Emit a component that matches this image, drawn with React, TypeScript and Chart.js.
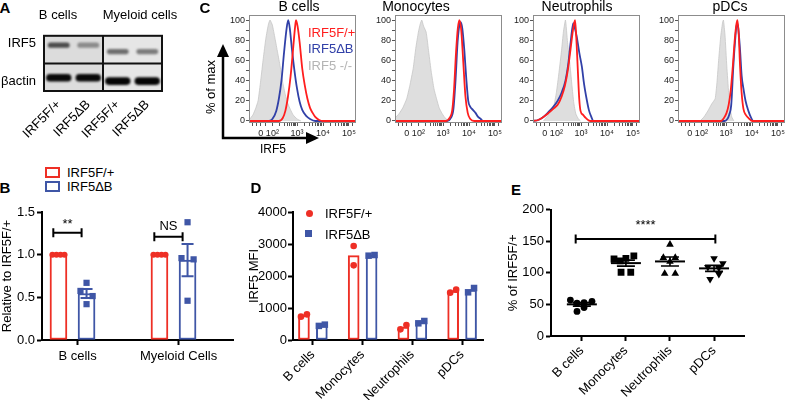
import React, { useEffect, useRef } from 'react';
import { Chart, registerables } from 'chart.js';

Chart.register(...registerables);

const FONT = "'Liberation Sans', Arial, Helvetica, sans-serif";
const RED = '#ee2f25';
const BLUE = '#3f56a6';
const C_RED = '#ff1e1e';
const C_BLUE = '#3140a8';
const C_GRAY_FILL = '#dedede';
const C_GRAY_LINE = '#c6c6c6';

// ---------------- Panel A (western blot) ----------------
const BLOT_LANES = ['IRF5F/+', 'IRF5ΔB', 'IRF5F/+', 'IRF5ΔB'];
const BLOT_ROWS = ['IRF5', 'βactin'];
const BLOT_GROUPS = ['B cells', 'Myeloid cells'];
const IRF5_BAND_INTENSITY = [0.68, 0.4, 0.52, 0.46];
const ACTIN_BAND_INTENSITY = [0.96, 0.96, 0.98, 0.98];
const IRF5_BAND_MOBILITY = [1.66, 1.66, 1.43, 1.43];
const ACTIN_BAND_MOBILITY = [0.48, 0.48, 0.36, 0.36];

// ---------------- Panel C (histograms) ----------------
type Pt = [number, number];
const C_TITLES = ['B cells', 'Monocytes', 'Neutrophils', 'pDCs'];
const C_LEGEND = ['IRF5F/+', 'IRF5ΔB', 'IRF5 -/-'];
const C_XTICKS: [number, string][] = [[1.6, '0'], [2.05, '10²'], [3, '10³'], [4, '10⁴'], [5, '10⁵']];
const C_YTICKS = [0, 20, 40, 60, 80, 100];

const BC_KO: Pt[] = [[1.15, 1], [1.3, 6], [1.4, 12], [1.5, 20], [1.6, 40], [1.7, 62], [1.8, 82], [1.9, 96], [1.96, 100], [2.05, 95], [2.15, 82], [2.25, 68], [2.35, 54], [2.45, 38], [2.55, 26], [2.65, 17], [2.75, 11], [2.85, 6], [3.0, 2], [3.15, 0]];
const BC_DB: Pt[] = [[1.15, 0], [1.9, 0], [2.05, 2], [2.2, 10], [2.3, 22], [2.4, 40], [2.5, 68], [2.6, 92], [2.66, 100], [2.72, 92], [2.8, 72], [2.9, 50], [3.0, 32], [3.1, 19], [3.2, 11], [3.35, 5], [3.5, 2], [3.7, 0], [5.27, 0]];
const BC_WT: Pt[] = [[1.15, 0], [2.3, 0], [2.45, 3], [2.55, 10], [2.65, 24], [2.75, 44], [2.85, 72], [2.92, 92], [2.96, 100], [3.02, 94], [3.1, 78], [3.2, 52], [3.3, 35], [3.4, 22], [3.5, 13], [3.6, 8], [3.7, 4], [3.85, 1], [4.0, 0], [5.27, 0]];

const MO_KO: Pt[] = [[1.15, 3], [1.3, 7], [1.45, 13], [1.6, 22], [1.72, 35], [1.85, 52], [1.95, 72], [2.05, 88], [2.12, 96], [2.18, 100], [2.25, 94], [2.35, 88], [2.45, 68], [2.55, 48], [2.65, 32], [2.75, 22], [2.85, 13], [2.95, 8], [3.05, 4], [3.2, 0]];
const MO_DB: Pt[] = [[1.15, 0], [3.15, 0], [3.3, 3], [3.4, 12], [3.48, 40], [3.56, 78], [3.63, 95], [3.68, 98], [3.74, 92], [3.82, 70], [3.9, 40], [3.97, 20], [4.05, 14], [4.15, 11], [4.25, 8], [4.35, 4], [4.45, 2], [4.55, 0], [5.27, 0]];
const MO_WT: Pt[] = [[1.15, 0], [3.1, 0], [3.25, 3], [3.35, 10], [3.42, 30], [3.5, 68], [3.57, 92], [3.63, 100], [3.7, 90], [3.78, 58], [3.86, 25], [3.95, 8], [4.05, 2], [4.2, 0], [5.27, 0]];

const NE_KO: Pt[] = [[1.55, 0], [1.65, 3], [1.8, 8], [1.95, 15], [2.05, 28], [2.15, 48], [2.25, 70], [2.32, 88], [2.4, 100], [2.48, 78], [2.58, 54], [2.65, 35], [2.72, 18], [2.8, 7], [2.9, 2], [2.98, 0]];
const NE_DB: Pt[] = [[1.15, 0], [1.35, 1], [1.55, 4], [1.75, 9], [1.93, 14], [2.1, 20], [2.25, 28], [2.4, 40], [2.5, 55], [2.6, 78], [2.7, 97], [2.76, 92], [2.83, 84], [2.93, 68], [3.03, 54], [3.12, 36], [3.22, 21], [3.3, 11], [3.38, 5], [3.48, 0], [5.27, 0]];
const NE_WT: Pt[] = [[1.15, 0], [1.35, 1], [1.55, 4], [1.75, 8], [1.93, 12], [2.1, 16], [2.25, 24], [2.38, 35], [2.5, 52], [2.6, 72], [2.7, 92], [2.77, 100], [2.83, 76], [2.88, 48], [2.93, 22], [2.98, 10], [3.08, 6], [3.18, 3], [3.35, 0], [5.27, 0]];

const PD_KO: Pt[] = [[2.0, 0], [2.15, 4], [2.3, 10], [2.45, 17], [2.58, 22], [2.65, 38], [2.72, 62], [2.8, 85], [2.87, 98], [2.9, 100], [2.96, 85], [3.03, 54], [3.1, 28], [3.16, 12], [3.22, 4], [3.3, 0]];
const PD_DB: Pt[] = [[1.15, 0], [2.95, 0], [3.05, 2], [3.12, 6], [3.2, 16], [3.28, 54], [3.35, 80], [3.42, 97], [3.47, 92], [3.54, 70], [3.6, 45], [3.67, 32], [3.75, 20], [3.86, 10], [3.95, 4], [4.05, 0], [5.27, 0]];
const PD_WT: Pt[] = [[1.15, 0], [2.8, 0], [2.92, 3], [3.02, 8], [3.1, 16], [3.18, 30], [3.26, 54], [3.34, 82], [3.4, 96], [3.44, 100], [3.49, 85], [3.54, 54], [3.6, 28], [3.67, 12], [3.76, 6], [3.86, 3], [4.0, 0], [5.27, 0]];

// ---------------- Panel B ----------------
const B_CATS = ['B cells', 'Myeloid Cells'];
const B_SERIES = ['IRF5F/+', 'IRF5ΔB'];
const B_WT = [[1, 1, 1, 1], [1, 1, 1, 1]];
const B_KO = [[0.67, 0.575, 0.515, 0.42], [1.38, 0.96, 0.945, 0.46]];
const B_SIG = ['**', 'NS'];

// ---------------- Panel D ----------------
const D_CATS = ['B cells', 'Monocytes', 'Neutrophils', 'pDCs'];
const D_WT = [[729, 802], [2937, 2333], [333, 469], [1479, 1573]];
const D_KO = [[440, 480], [2635, 2656], [521, 594], [1490, 1625]];

// ---------------- Panel E ----------------
const E_CATS = ['B cells', 'Monocytes', 'Neutrophils', 'pDCs'];
const E_VALUES = [
  [57, 52, 53, 39, 45, 55],
  [122, 119, 123, 127, 101, 101],
  [145, 124, 124, 118, 99, 99],
  [123, 115, 109, 108, 90, 98],
];
const E_SIG = '****';

// layout-only horizontal spreads of dots (fractions of a category step)
const B_WT_SPREAD = [-0.06, -0.02, 0.02, 0.06];
const B_KO_SPREAD = [0, -0.06, 0.06, 0];
const D_SPREAD = [[-0.06, 0.06], [0, 0], [-0.06, 0.06], [-0.06, 0.06]];
const D_KO_SPREAD = [[-0.06, 0.06], [-0.06, 0.06], [-0.06, 0.06], [-0.06, 0.06]];
const E_SPREAD = [
  [-0.26, -0.11, 0.05, -0.11, 0.05, 0.23],
  [-0.27, -0.13, 0, 0.18, -0.11, 0.11],
  [0, -0.15, 0.12, 0, -0.12, 0.12],
  [0, 0.2, -0.14, 0.11, -0.09, 0.11],
];

const mean = (a: number[]) => a.reduce((s, v) => s + v, 0) / a.length;
const sem = (a: number[]) => {
  const m = mean(a);
  const sd = Math.sqrt(a.reduce((s, v) => s + (v - m) * (v - m), 0) / (a.length - 1));
  return sd / Math.sqrt(a.length);
};
const toXY = (a: Pt[]) => a.map(([x, y]) => ({ x, y }));

// ---------- shared helpers ----------
const font = (size: number, weight = 'normal') => ({ family: FONT, size, weight });

function axisBlack(extra: any) {
  return {
    grid: { display: true, drawOnChartArea: false, tickLength: 5, tickWidth: 2, tickColor: '#000' },
    border: { display: true, color: '#000', width: 2 },
    ...extra,
  };
}

function bracketPlugin(items: { x1: number; x2: number; y: number; label: string; dy: number }[]) {
  return {
    id: 'brackets',
    afterDatasetsDraw(chart: any) {
      const { ctx } = chart;
      const xs = chart.scales.x;
      const ys = chart.scales.y;
      ctx.save();
      ctx.strokeStyle = '#000';
      ctx.fillStyle = '#000';
      ctx.lineWidth = 2;
      ctx.font = `13px ${FONT}`;
      ctx.textAlign = 'center';
      ctx.textBaseline = 'middle';
      for (const it of items) {
        const a = xs.getPixelForValue(it.x1);
        const b = xs.getPixelForValue(it.x2);
        const y = ys.getPixelForValue(it.y);
        ctx.beginPath();
        ctx.moveTo(a, y);
        ctx.lineTo(b, y);
        ctx.moveTo(a, y - 4.5);
        ctx.lineTo(a, y + 4.5);
        ctx.moveTo(b, y - 4.5);
        ctx.lineTo(b, y + 4.5);
        ctx.stroke();
        ctx.fillText(it.label, (a + b) / 2, y + it.dy);
      }
      ctx.restore();
    },
  };
}

function ChartBox(props: { left: number; top: number; width: number; height: number; make: () => any }) {
  const ref = useRef<HTMLCanvasElement>(null);
  useEffect(() => {
    const c = new Chart(ref.current as HTMLCanvasElement, props.make());
    return () => c.destroy();
  }, []);
  return (
    <canvas
      ref={ref}
      width={props.width}
      height={props.height}
      style={{ position: 'absolute', left: props.left, top: props.top, width: props.width, height: props.height, display: 'block' }}
    />
  );
}

// ---------- Panel A config ----------
const bandGray = (i: number) => {
  const g = Math.round(230 - 230 * i);
  return `rgb(${g},${g},${g})`;
};

function makeBlot() {
  const blotPlugin = {
    id: 'blot',
    beforeDatasetsDraw(chart: any) {
      const { ctx, chartArea: a } = chart;
      const xs = chart.scales.x;
      const mid = (xs.getPixelForValue(1) + xs.getPixelForValue(2)) / 2;
      ctx.save();
      ctx.fillStyle = '#dcdcdc';
      ctx.fillRect(a.left, a.top, mid - a.left, a.bottom - a.top);
      ctx.fillStyle = '#e6e6e6';
      ctx.fillRect(mid, a.top, a.right - mid, a.bottom - a.top);
      ctx.restore();
      ctx.save();
      ctx.filter = 'blur(0.9px)';
    },
    afterDatasetsDraw(chart: any) {
      const { ctx, chartArea: a } = chart;
      ctx.restore();
      const xs = chart.scales.x;
      const ys = chart.scales.y;
      const mid = (xs.getPixelForValue(1) + xs.getPixelForValue(2)) / 2;
      const ym = ys.getPixelForValue(1);
      ctx.save();
      ctx.strokeStyle = '#111';
      ctx.lineWidth = 2;
      ctx.strokeRect(a.left, a.top, a.right - a.left, a.bottom - a.top);
      ctx.beginPath();
      ctx.moveTo(mid, a.top);
      ctx.lineTo(mid, a.bottom);
      ctx.moveTo(a.left, ym);
      ctx.lineTo(a.right, ym);
      ctx.stroke();
      ctx.restore();
    },
  };
  return {
    type: 'bar',
    data: {
      labels: BLOT_LANES,
      datasets: [
        {
          data: IRF5_BAND_MOBILITY.map((m) => [m - 0.095, m + 0.095]),
          backgroundColor: IRF5_BAND_INTENSITY.map(bandGray),
          barPercentage: 0.74,
          categoryPercentage: 1,
          grouped: false,
          borderRadius: 3,
          borderSkipped: false,
        },
        {
          data: ACTIN_BAND_MOBILITY.map((m) => [m - 0.14, m + 0.14]),
          backgroundColor: ACTIN_BAND_INTENSITY.map(bandGray),
          barPercentage: 0.86,
          categoryPercentage: 1,
          grouped: false,
          borderRadius: 4,
          borderSkipped: false,
        },
      ],
    },
    options: {
      responsive: false,
      animation: false,
      layout: { padding: { top: 9, right: 8, left: 0, bottom: 0 } },
      plugins: { legend: { display: false }, tooltip: { enabled: false } },
      scales: {
        x: {
          type: 'category',
          offset: true,
          grid: { display: false, drawTicks: false },
          border: { display: false },
          ticks: { color: '#000', font: font(13), minRotation: 45, maxRotation: 45, padding: 6, autoSkip: false },
          afterFit: (s: any) => { s.height = 61; },
        },
        y: {
          type: 'linear',
          min: 0,
          max: 2,
          grid: { display: false, drawTicks: false },
          border: { display: false },
          afterBuildTicks: (s: any) => { s.ticks = [{ value: 0.35 }, { value: 1.72 }]; },
          ticks: { color: '#000', font: font(13), padding: 8, callback: (v: number) => (v > 1 ? BLOT_ROWS[0] : BLOT_ROWS[1]) },
          afterFit: (s: any) => { s.width = 44; },
        },
      },
    },
    plugins: [blotPlugin],
  };
}

// ---------- Panel C config ----------
const H_MIN = 1.15;
const H_MAX = 5.27;
const H_MINOR: number[] = [];
[2, 3, 4].forEach((d) => {
  for (let k = 2; k <= 9; k++) {
    const base = d === 2 ? 2.05 : d;
    const span = d === 2 ? 0.95 : 1;
    H_MINOR.push(base + Math.log10(k) * span);
  }
});
H_MINOR.push(1.3, 1.45, 1.8, 5.15);

function makeHist(wt: Pt[], db: Pt[], ko: Pt[], yw: number, padRight: number, first: boolean) {
  const boxPlugin = {
    id: 'histBox',
    afterDatasetsDraw(chart: any) {
      const { ctx, chartArea: a } = chart;
      ctx.save();
      ctx.strokeStyle = '#8c8c8c';
      ctx.lineWidth = 1;
      ctx.strokeRect(a.left + 0.5, a.top + 0.5, a.right - a.left - 1, a.bottom - a.top - 1);
      ctx.restore();
      if (first) {
        ctx.save();
        ctx.strokeStyle = '#000';
        ctx.fillStyle = '#000';
        ctx.lineWidth = 2.5;
        const ax = 23;
        const ay = 138;
        ctx.beginPath();
        ctx.moveTo(ax, ay);
        ctx.lineTo(ax, 55);
        ctx.moveTo(ax - 1.2, ay);
        ctx.lineTo(108, ay);
        ctx.stroke();
        ctx.beginPath();
        ctx.moveTo(ax, 44);
        ctx.lineTo(ax - 6, 57);
        ctx.lineTo(ax + 6, 57);
        ctx.closePath();
        ctx.fill();
        ctx.beginPath();
        ctx.moveTo(119, ay);
        ctx.lineTo(106, ay - 6);
        ctx.lineTo(106, ay + 6);
        ctx.closePath();
        ctx.fill();
        ctx.restore();
      }
    },
  };
  const tickCol = '#555';
  return {
    type: 'line',
    data: {
      datasets: [
        { data: toXY(wt), borderColor: C_RED, borderWidth: 1.8, pointRadius: 0, cubicInterpolationMode: 'monotone', fill: false },
        { data: toXY(db), borderColor: C_BLUE, borderWidth: 1.8, pointRadius: 0, cubicInterpolationMode: 'monotone', fill: false },
        { data: toXY(ko), borderColor: C_GRAY_LINE, borderWidth: 0.8, backgroundColor: C_GRAY_FILL, pointRadius: 0, tension: 0.15, fill: 'origin' },
      ],
    },
    options: {
      responsive: false,
      animation: false,
      layout: { padding: { top: 15, right: padRight, left: 0, bottom: 0 } },
      plugins: { legend: { display: false }, tooltip: { enabled: false } },
      scales: {
        x: {
          type: 'linear',
          min: H_MIN,
          max: H_MAX,
          grid: { display: true, drawOnChartArea: false, tickLength: 3, tickWidth: 1, tickColor: tickCol },
          border: { display: false },
          afterBuildTicks: (s: any) => {
            const all = [...C_XTICKS.map((t) => t[0]), ...H_MINOR].sort((a, b) => a - b);
            s.ticks = all.map((v) => ({ value: v }));
          },
          ticks: {
            autoSkip: false,
            maxRotation: 0,
            minRotation: 0,
            padding: 2,
            color: '#222',
            font: font(9),
            callback: (v: number) => {
              const t = C_XTICKS.find((q) => Math.abs(q[0] - v) < 1e-6);
              return t ? t[1] : '';
            },
          },
          afterFit: (s: any) => { s.height = 37; },
        },
        y: {
          type: 'linear',
          min: -2,
          max: 105,
          grid: { display: true, drawOnChartArea: false, tickLength: 3, tickWidth: 1, tickColor: tickCol },
          border: { display: false },
          afterBuildTicks: (s: any) => {
            const arr: any[] = [];
            for (let v = 0; v <= 100; v += 10) arr.push({ value: v });
            s.ticks = arr;
          },
          ticks: {
            autoSkip: false,
            padding: 1,
            color: '#222',
            font: font(9),
            callback: (v: number) => (C_YTICKS.includes(v) ? String(v) : ''),
          },
          afterFit: (s: any) => { s.width = yw; },
        },
      },
    },
    plugins: [boxPlugin],
  };
}

// ---------- Panel B config ----------
function makeB() {
  const OFF = 0.139;
  const errPlugin = {
    id: 'errB',
    afterDatasetsDraw(chart: any) {
      const { ctx } = chart;
      const xs = chart.scales.x;
      const ys = chart.scales.y;
      ctx.save();
      ctx.strokeStyle = BLUE;
      ctx.lineWidth = 2;
      B_KO.forEach((vals, i) => {
        const m = mean(vals);
        const e = sem(vals);
        const x = xs.getPixelForValue(i + OFF);
        const y1 = ys.getPixelForValue(m - e);
        const y2 = ys.getPixelForValue(m + e);
        ctx.beginPath();
        ctx.moveTo(x, y1);
        ctx.lineTo(x, y2);
        ctx.moveTo(x - 6, y1);
        ctx.lineTo(x + 6, y1);
        ctx.moveTo(x - 6, y2);
        ctx.lineTo(x + 6, y2);
        ctx.stroke();
      });
      ctx.restore();
    },
  };
  return {
    type: 'bar',
    data: {
      datasets: [
        {
          type: 'scatter',
          data: B_WT.flatMap((vals, i) => vals.map((v, k) => ({ x: i - OFF + B_WT_SPREAD[k], y: v }))),
          pointStyle: 'circle',
          pointRadius: 3,
          backgroundColor: RED,
          borderWidth: 0,
          order: 0,
        },
        {
          type: 'scatter',
          data: B_KO.flatMap((vals, i) => vals.map((v, k) => ({ x: i + OFF + B_KO_SPREAD[k], y: v }))),
          pointStyle: 'rect',
          pointRadius: 4.4,
          backgroundColor: BLUE,
          borderWidth: 0,
          order: 0,
        },
        {
          label: B_SERIES[0],
          data: B_WT.map((vals, i) => ({ x: i - OFF, y: mean(vals) })),
          backgroundColor: '#fff',
          borderColor: RED,
          borderWidth: 2,
          barThickness: 17,
          grouped: false,
          borderSkipped: false,
          order: 2,
        },
        {
          label: B_SERIES[1],
          data: B_KO.map((vals, i) => ({ x: i + OFF, y: mean(vals) })),
          backgroundColor: '#fff',
          borderColor: BLUE,
          borderWidth: 2,
          barThickness: 17,
          grouped: false,
          borderSkipped: false,
          order: 2,
        },
      ],
    },
    options: {
      responsive: false,
      animation: false,
      layout: { padding: { top: 12, right: 7, left: 0, bottom: 0 } },
      plugins: { legend: { display: false }, tooltip: { enabled: false } },
      scales: {
        x: axisBlack({
          type: 'linear',
          min: -0.302,
          max: 1.589,
          offset: false,
          grid: { display: true, offset: false, drawOnChartArea: false, tickLength: 5, tickWidth: 2, tickColor: '#000' },
          afterBuildTicks: (s: any) => { s.ticks = B_CATS.map((_, i) => ({ value: i + 0.05 })); },
          ticks: {
            autoSkip: false,
            maxRotation: 0,
            minRotation: 0,
            padding: 4,
            color: '#000',
            font: font(13),
            callback: (v: number) => B_CATS[Math.round(v)],
          },
          afterFit: (s: any) => { s.height = 35; },
        }),
        y: axisBlack({
          type: 'linear',
          min: 0,
          max: 1.5,
          ticks: { stepSize: 0.5, padding: 2, color: '#000', font: font(13), callback: (v: number) => v.toFixed(1) },
          title: { display: true, text: 'Relative to IRF5F/+', color: '#000', font: font(13), padding: { top: 0, bottom: 0 } },
          afterFit: (s: any) => { s.width = 42; },
        }),
      },
    },
    plugins: [
      errPlugin,
      bracketPlugin([
        { x1: -0.19, x2: 0.09, y: 1.258, label: B_SIG[0], dy: -8 },
        { x1: 0.81, x2: 1.09, y: 1.21, label: B_SIG[1], dy: -10 },
      ]),
    ],
  };
}

// ---------- Panel D config ----------
function makeD() {
  const OFF = 0.18;
  return {
    type: 'bar',
    data: {
      datasets: [
        {
          type: 'scatter',
          data: D_WT.flatMap((vals, i) => vals.map((v, k) => ({ x: i - OFF + D_SPREAD[i][k], y: v }))),
          pointStyle: 'circle',
          pointRadius: 3.3,
          backgroundColor: RED,
          borderWidth: 0,
          order: 0,
        },
        {
          type: 'scatter',
          data: D_KO.flatMap((vals, i) => vals.map((v, k) => ({ x: i + OFF + D_KO_SPREAD[i][k], y: v }))),
          pointStyle: 'rect',
          pointRadius: 4.6,
          backgroundColor: BLUE,
          borderWidth: 0,
          order: 0,
        },
        {
          data: D_WT.map((vals, i) => ({ x: i - OFF, y: mean(vals) })),
          backgroundColor: '#fff',
          borderColor: RED,
          borderWidth: 2,
          barThickness: 11,
          grouped: false,
          borderSkipped: false,
          order: 2,
        },
        {
          data: D_KO.map((vals, i) => ({ x: i + OFF, y: mean(vals) })),
          backgroundColor: '#fff',
          borderColor: BLUE,
          borderWidth: 2,
          barThickness: 11,
          grouped: false,
          borderSkipped: false,
          order: 2,
        },
      ],
    },
    options: {
      responsive: false,
      animation: false,
      layout: { padding: { top: 12, right: 7, left: 0, bottom: 0 } },
      plugins: { legend: { display: false }, tooltip: { enabled: false } },
      scales: {
        x: axisBlack({
          type: 'linear',
          min: -0.4,
          max: 3.42,
          offset: false,
          grid: { display: true, offset: false, drawOnChartArea: false, tickLength: 5, tickWidth: 2, tickColor: '#000' },
          afterBuildTicks: (s: any) => { s.ticks = D_CATS.map((_, i) => ({ value: i })); },
          ticks: {
            autoSkip: false,
            maxRotation: 45,
            minRotation: 45,
            padding: 2,
            color: '#000',
            font: font(13),
            callback: (v: number) => D_CATS[Math.round(v)],
          },
          afterFit: (s: any) => { s.height = 60; },
        }),
        y: axisBlack({
          type: 'linear',
          min: 0,
          max: 4000,
          ticks: { stepSize: 1000, padding: 1, color: '#000', font: font(13), callback: (v: number) => String(v) },
          title: { display: true, text: 'IRF5 MFI', color: '#000', font: font(13), padding: { top: 0, bottom: 0 } },
          afterFit: (s: any) => { s.width = 46; },
        }),
      },
    },
  };
}

// ---------- Panel E config ----------
function makeE() {
  const styles = ['circle', 'rect', 'triangle', 'triangle'];
  const radii = [3.4, 4.8, 4.4, 4.4];
  const rots = [0, 0, 0, 180];
  const meanPlugin = {
    id: 'meanSem',
    afterDatasetsDraw(chart: any) {
      const { ctx } = chart;
      const xs = chart.scales.x;
      const ys = chart.scales.y;
      ctx.save();
      ctx.strokeStyle = '#000';
      E_VALUES.forEach((vals, i) => {
        const m = mean(vals);
        const e = sem(vals);
        const x = xs.getPixelForValue(i);
        const ym = ys.getPixelForValue(m);
        const y1 = ys.getPixelForValue(m - e);
        const y2 = ys.getPixelForValue(m + e);
        ctx.lineWidth = 2;
        ctx.beginPath();
        ctx.moveTo(x - 15, ym);
        ctx.lineTo(x + 15, ym);
        ctx.stroke();
        ctx.lineWidth = 1.6;
        ctx.beginPath();
        ctx.moveTo(x, y1);
        ctx.lineTo(x, y2);
        ctx.moveTo(x - 9, y1);
        ctx.lineTo(x + 9, y1);
        ctx.moveTo(x - 9, y2);
        ctx.lineTo(x + 9, y2);
        ctx.stroke();
      });
      ctx.restore();
    },
  };
  return {
    type: 'scatter',
    data: {
      datasets: E_VALUES.map((vals, i) => ({
        label: E_CATS[i],
        data: vals.map((v, k) => ({ x: i + E_SPREAD[i][k], y: v })),
        pointStyle: styles[i],
        pointRadius: radii[i],
        pointRotation: rots[i],
        backgroundColor: '#000',
        borderColor: '#000',
        borderWidth: 0,
      })),
    },
    options: {
      responsive: false,
      animation: false,
      layout: { padding: { top: 8, right: 42, left: 0, bottom: 0 } },
      plugins: { legend: { display: false }, tooltip: { enabled: false } },
      scales: {
        x: axisBlack({
          type: 'linear',
          min: -0.7,
          max: 3.68,
          afterBuildTicks: (s: any) => { s.ticks = E_CATS.map((_, i) => ({ value: i })); },
          ticks: {
            autoSkip: false,
            maxRotation: 45,
            minRotation: 45,
            padding: 2,
            color: '#000',
            font: font(13),
            callback: (v: number) => E_CATS[Math.round(v)],
          },
          afterFit: (s: any) => { s.height = 64; },
        }),
        y: axisBlack({
          type: 'linear',
          min: 0,
          max: 200,
          ticks: { stepSize: 50, padding: 2, color: '#000', font: font(13) },
          title: { display: true, text: '% of IRF5F/+', color: '#000', font: font(13), padding: { top: 0, bottom: 0 } },
          afterFit: (s: any) => { s.width = 45; },
        }),
      },
    },
    plugins: [meanPlugin, bracketPlugin([{ x1: -0.14, x2: 3.03, y: 153.6, label: E_SIG, dy: -14 }])],
  };
}

// ---------- text helper ----------
function T(props: { x: number; y: number; text: string; size?: number; color?: string; bold?: boolean; left?: boolean; rotate?: number }) {
  const { x, y, text, size = 13, color = '#000', bold = false, left = false, rotate = 0 } = props;
  return (
    <div
      style={{
        position: 'absolute',
        left: x,
        top: y,
        transform: `translate(${left ? '0' : '-50%'}, -50%) rotate(${rotate}deg)`,
        fontFamily: FONT,
        fontSize: size,
        fontWeight: bold ? 'bold' : 'normal',
        color,
        whiteSpace: 'nowrap',
        lineHeight: 1,
      }}
    >
      {text}
    </div>
  );
}

export default function App() {
  useEffect(() => {
    document.body.style.margin = '0';
  }, []);
  return (
    <div style={{ position: 'fixed', left: 0, top: 0, width: 786, height: 400, background: '#fff', overflow: 'hidden' }}>
      {/* Panel A */}
      <ChartBox left={0} top={20} width={170} height={132} make={makeBlot} />
      <T x={5} y={7} text="A" size={15} bold />
      <T x={58} y={14} text={BLOT_GROUPS[0]} />
      <T x={140} y={14} text={BLOT_GROUPS[1]} />

      {/* Panel C */}
      <ChartBox left={200} top={0} width={160} height={160} make={() => makeHist(BC_WT, BC_DB, BC_KO, 49, 4, true)} />
      <ChartBox left={375} top={0} width={130} height={160} make={() => makeHist(MO_WT, MO_DB, MO_KO, 20, 3, false)} />
      <ChartBox left={513} top={0} width={130} height={160} make={() => makeHist(NE_WT, NE_DB, NE_KO, 20, 3, false)} />
      <ChartBox left={658} top={0} width={128} height={160} make={() => makeHist(PD_WT, PD_DB, PD_KO, 20, 1, false)} />
      <T x={205} y={7} text="C" size={15} bold />
      <T x={299} y={6} text={C_TITLES[0]} size={14} />
      <T x={416} y={6} text={C_TITLES[1]} size={14} />
      <T x={577} y={6} text={C_TITLES[2]} size={14} />
      <T x={730} y={6} text={C_TITLES[3]} size={14} />
      <T x={308} y={32} text={C_LEGEND[0]} color={C_RED} left />
      <T x={308} y={48} text={C_LEGEND[1]} color={C_BLUE} left />
      <T x={308} y={65} text={C_LEGEND[2]} color="#b4b4b4" left />
      <T x={210} y={87} text="% of max" rotate={-90} />
      <T x={273} y={149} text="IRF5" size={12} />

      {/* Panel B */}
      <ChartBox left={0} top={200} width={240} height={175} make={makeB} />
      <T x={5} y={187} text="B" size={15} bold />
      <div style={{ position: 'absolute', left: 45, top: 167, width: 11, height: 7, border: `2px solid ${RED}` }} />
      <div style={{ position: 'absolute', left: 45, top: 181, width: 11, height: 7, border: `2px solid ${BLUE}` }} />
      <T x={67} y={172} text={B_SERIES[0]} left />
      <T x={67} y={186} text={B_SERIES[1]} left />

      {/* Panel D */}
      <ChartBox left={247} top={200} width={243} height={200} make={makeD} />
      <T x={256} y={187} text="D" size={15} bold />
      <div style={{ position: 'absolute', left: 306, top: 210, width: 7, height: 7, borderRadius: 4, background: RED }} />
      <div style={{ position: 'absolute', left: 305, top: 230, width: 7, height: 7, background: BLUE }} />
      <T x={325} y={213} text={B_SERIES[0]} left />
      <T x={325} y={234} text={B_SERIES[1]} left />

      {/* Panel E */}
      <ChartBox left={506} top={200} width={280} height={200} make={makeE} />
      <T x={516} y={189} text="E" size={15} bold />
    </div>
  );
}
